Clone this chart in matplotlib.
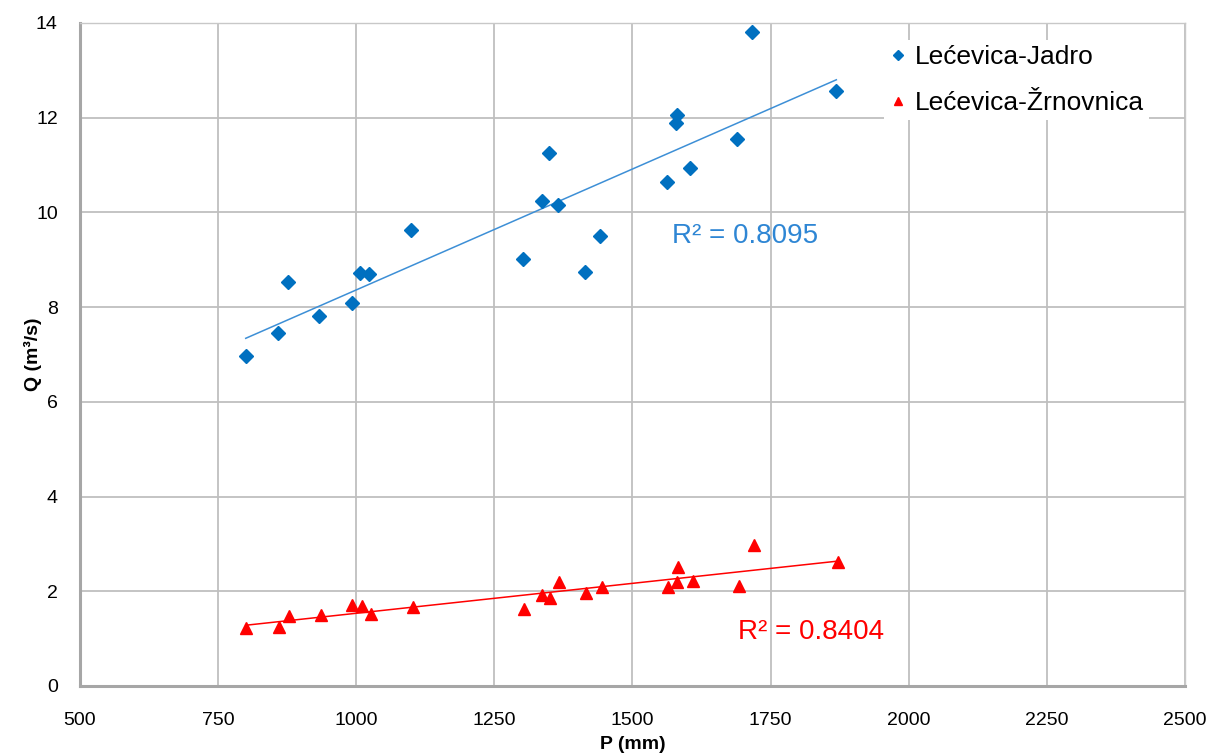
import matplotlib
matplotlib.use("Agg")
import matplotlib.pyplot as plt
import numpy as np

plt.rcParams['font.family'] = ['Liberation Sans', 'DejaVu Sans']

# annual precipitation P (mm) for each year, shared by both springs
p_jadro = [800, 859, 877, 933, 992, 1007, 1024, 1100, 1301, 1337, 1349,
           1365, 1414, 1441, 1562, 1578, 1580, 1605, 1690, 1717, 1869]
q_jadro = [6.97, 7.46, 8.54, 7.82, 8.09, 8.73, 8.69, 9.63, 9.01, 10.25, 11.25,
           10.16, 8.75, 9.50, 10.64, 11.89, 12.06, 10.93, 11.56, 13.80, 12.57]

p_zrn = [800, 861, 879, 936, 993, 1010, 1027, 1102, 1304, 1337, 1351,
         1367, 1416, 1444, 1565, 1581, 1583, 1609, 1693, 1720, 1872]
q_zrn = [1.22, 1.25, 1.48, 1.50, 1.71, 1.69, 1.52, 1.66, 1.63, 1.92, 1.85,
         2.20, 1.97, 2.08, 2.08, 2.19, 2.51, 2.22, 2.12, 2.97, 2.62]

labels = ['Lećevica-Jadro', 'Lećevica-Žrnovnica']
r2_text = ['R² = 0.8095', 'R² = 0.8404']

fig = plt.figure(figsize=(12.1, 7.53), dpi=100)
ax = fig.add_axes([0.0661, 0.0890, 0.9132, 0.8805])

# scatter points
ax.plot(p_jadro, q_jadro, linestyle='none', marker='D', markersize=6.8,
        color='#0070C0', label=labels[0], zorder=4)
ax.plot(p_zrn, q_zrn, linestyle='none', marker='^', markersize=8.5,
        color='#FF0000', label=labels[1], zorder=4)

# linear trend lines, drawn from min to max x like Excel does
for px, qy, col in [(p_jadro, q_jadro, '#3D8FD6'), (p_zrn, q_zrn, '#FF0000')]:
    k, b = np.polyfit(px, qy, 1)
    xs = np.array([min(px), max(px)])
    ax.plot(xs, k * xs + b, color=col, linewidth=1.1, zorder=3)

ax.text(1571, 9.50, r2_text[0], color='#2E86D4', fontsize=20, va='center', ha='left')
ax.text(1691, 1.14, r2_text[1], color='#FF0000', fontsize=20, va='center', ha='left')

ax.set_xlim(500, 2500)
ax.set_ylim(0, 14)
ax.set_xticks(np.arange(500, 2501, 250))
ax.set_yticks(np.arange(0, 15, 2))
ax.tick_params(length=0, labelsize=14, colors='#000000')
ax.tick_params(axis='y', pad=16)
ax.tick_params(axis='x', pad=19)
ax.grid(True, color='#BFBFBF', linewidth=1.3, zorder=0)
ax.set_axisbelow(True)

for side in ['left', 'bottom']:
    ax.spines[side].set_color('#A6A6A6')
    ax.spines[side].set_linewidth(2.2)
for side in ['top', 'right']:
    ax.spines[side].set_color('#C8C8C8')
    ax.spines[side].set_linewidth(1.0)

ax.set_xlabel('P (mm)', fontsize=14, fontweight='bold')
ax.set_ylabel('Q (m³/s)', fontsize=14, fontweight='bold')
ax.xaxis.set_label_coords(0.5, -0.075)
ax.yaxis.set_label_coords(-0.034, 0.5)

leg = ax.legend(loc='upper left', bbox_to_anchor=(0.716, 0.994), fontsize=19,
                frameon=True, fancybox=False, edgecolor='none', framealpha=1,
                handlelength=0.6, handletextpad=0.35, labelspacing=0.82,
                borderpad=0.2, markerscale=0.75)

fig.savefig('out.png', dpi=100)
